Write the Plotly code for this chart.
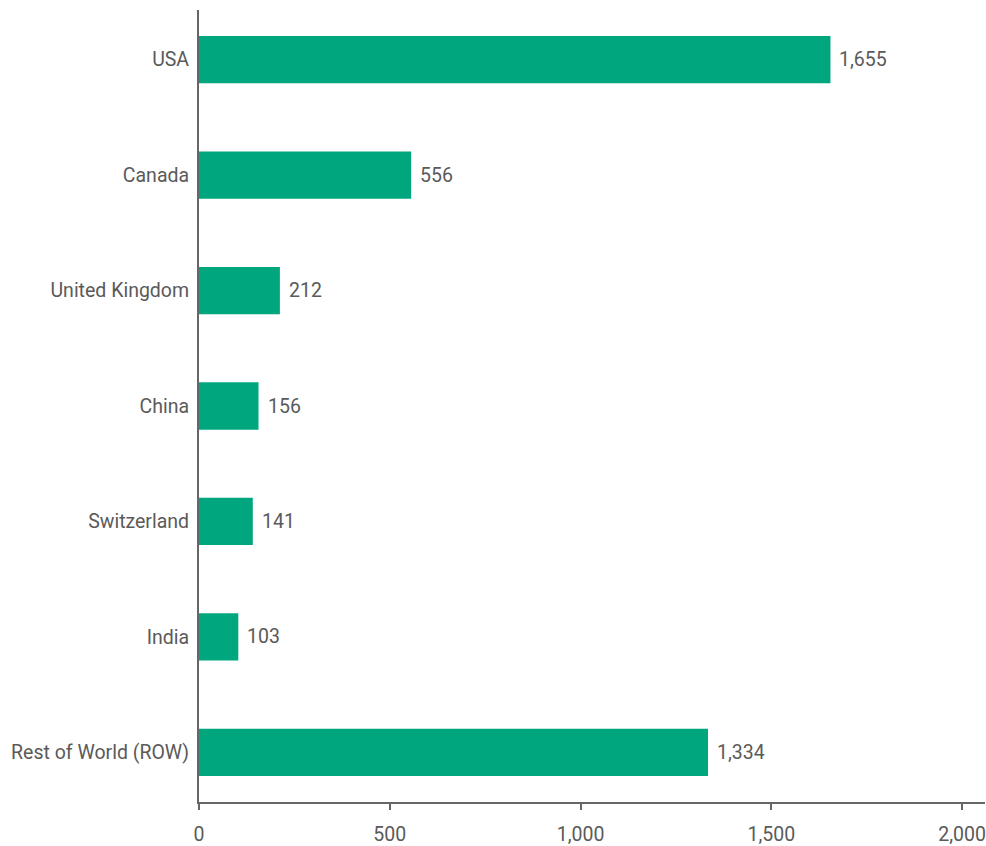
import plotly.graph_objects as go

countries = ["USA", "Canada", "United Kingdom", "China", "Switzerland", "India", "Rest of World (ROW)"]
values = [1655, 556, 212, 156, 141, 103, 1334]
x_ticks = [0, 500, 1000, 1500, 2000]
x_tick_labels = ["0", "500", "1,000", "1,500", "2,000"]

bar_color = "#00A67E"
text_color = "#5a5a5a"
axis_color = "#666666"
font_family = "Roboto"
font_size = 19.5

fig = go.Figure(
    go.Bar(
        x=values,
        y=countries,
        orientation="h",
        marker=dict(color=bar_color, line=dict(width=0)),
        width=0.41,
        hoverinfo="skip",
    )
)

# value labels just past the end of each bar
for c, v in zip(countries, values):
    fig.add_annotation(
        x=v, y=c, text=f"{v:,}", showarrow=False,
        xanchor="left", yanchor="middle", xshift=7,
        font=dict(family=font_family, size=font_size, color=text_color),
    )

fig.update_layout(
    width=986,
    height=846,
    margin=dict(l=199, r=0, t=10, b=42),
    plot_bgcolor="white",
    paper_bgcolor="white",
    font=dict(family=font_family, size=font_size, color=text_color),
    showlegend=False,
)

fig.update_xaxes(
    range=[0, 2060],
    tickvals=x_ticks,
    ticktext=x_tick_labels,
    showgrid=False,
    zeroline=False,
    showline=True,
    linecolor=axis_color,
    linewidth=2,
    ticks="outside",
    ticklen=6,
    tickwidth=2,
    tickcolor=axis_color,
    ticklabelstandoff=8,
    ticklabeloverflow="allow",
    tickfont=dict(size=font_size, color=text_color),
)

fig.update_yaxes(
    categoryorder="array",
    categoryarray=countries,
    range=[6.43, -0.43],
    showgrid=False,
    zeroline=False,
    showline=True,
    linecolor=axis_color,
    linewidth=2,
    ticks="",
    ticklabelstandoff=4,
    tickfont=dict(size=font_size, color=text_color),
)

fig.write_html("out.html")
